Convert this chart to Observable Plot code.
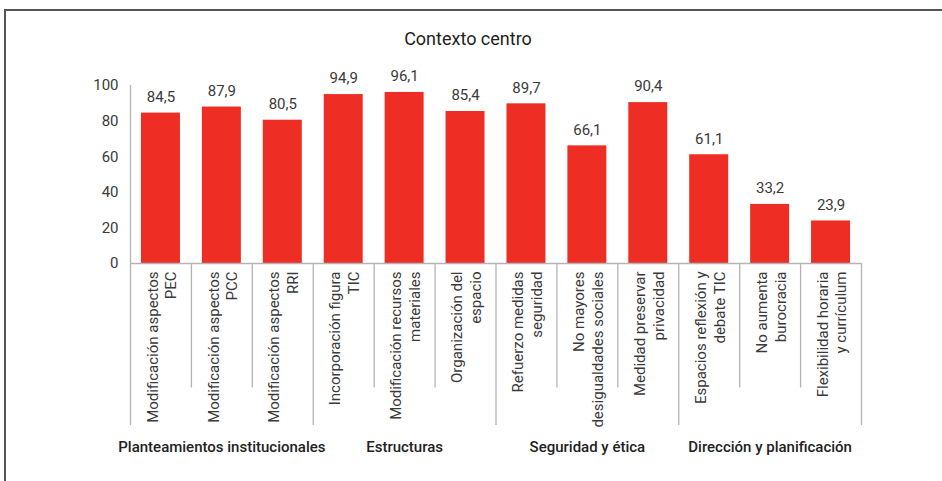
<!DOCTYPE html>
<html>
<head>
<meta charset="utf-8">
<script src="https://cdn.jsdelivr.net/npm/d3@7"></script>
<script src="https://cdn.jsdelivr.net/npm/@observablehq/plot@0.6"></script>
<style>
  html, body { margin: 0; padding: 0; background: #fff; }
  #wrap { position: relative; width: 942px; height: 481px; overflow: hidden; font-family: Roboto, "Noto Sans", sans-serif; }
  #frame { position: absolute; left: 4px; top: 9px; width: 960px; height: 500px; border-top: 2px solid #555; border-left: 2px solid #555; box-sizing: border-box; }
  #title { position: absolute; left: 0; width: 936px; top: 28px; text-align: center; font-size: 18px; font-weight: 400; color: #1e1e1e; }
  #chart { position: absolute; left: 0; top: 0; }
</style>
</head>
<body>
<div id="wrap">
  <div id="frame"></div>
  <div id="title">Contexto centro</div>
  <div id="chart"></div>
</div>
<script>
const categories = [
  "Modificación aspectos\nPEC",
  "Modificación aspectos\nPCC",
  "Modificación aspectos\nRRI",
  "Incorporación figura\nTIC",
  "Modificación recursos\nmateriales",
  "Organización del\nespacio",
  "Refuerzo medidas\nseguridad",
  "No mayores\ndesigualdades sociales",
  "Medidad preservar\nprivacidad",
  "Espacios reflexión y\ndebate TIC",
  "No aumenta\nburocracia",
  "Flexibilidad horaria\ny currículum"
];
const values = [84.5, 87.9, 80.5, 94.9, 96.1, 85.4, 89.7, 66.1, 90.4, 61.1, 33.2, 23.9];
const groups = ["Planteamientos institucionales", "Estructuras", "Seguridad y ética", "Dirección y planificación"];
const groupSize = [3, 3, 3, 3];
const yTicks = [0, 20, 40, 60, 80, 100];

const data = categories.map((c, i) => ({i, label: c, value: values[i]}));
let start = 0;
const groupData = groups.map((g, k) => { const d = {name: g, x1: start, x2: start + groupSize[k]}; start += groupSize[k]; return d; });
const boundaries = new Set([0, ...groupData.map(d => d.x2)]);
const seps = d3.range(0, categories.length + 1).map(k => ({k, long: boundaries.has(k)}));

const fmt = v => v.toFixed(1).replace(".", ",");
const red = "#ee2e24";
const grey = "#b4b4b4";
const txt = "#3a3a3a";

const plot = Plot.plot({
  width: 942,
  height: 481,
  marginLeft: 130,
  marginRight: 81,
  marginTop: 85,
  marginBottom: 218,
  style: {fontFamily: "Roboto, 'Noto Sans', sans-serif", background: "transparent"},
  x: {domain: [0, categories.length], axis: null},
  y: {domain: [0, 100], axis: null},
  marks: [
    Plot.rectY(data, {x1: d => d.i + 0.18, x2: d => d.i + 0.82, y: "value", fill: red}),
    Plot.ruleX(seps, {x: "k", y1: 0, y2: d => d.long ? -91 : -70, stroke: grey, strokeWidth: 1.3}),
    Plot.ruleX([0], {stroke: grey, strokeWidth: 1.3}),
    Plot.ruleY([0], {stroke: grey, strokeWidth: 1.3}),
    Plot.axisY({ticks: yTicks, tickSize: 0, tickPadding: 12, fontSize: 15, fill: txt, label: null}),
    Plot.text(data, {x: d => d.i + 0.5, y: "value", text: d => fmt(d.value), dy: -16, fontSize: 15, fill: txt}),
    Plot.text(data, {x: d => d.i + 0.5, y: 0, text: "label", rotate: -90, textAnchor: "end", lineAnchor: "middle", lineHeight: 1.25, dy: 8, fontSize: 15, fill: txt}),
    Plot.text(groupData, {x: d => (d.x1 + d.x2) / 2, frameAnchor: "bottom", text: "name", dy: 188, fontSize: 15, fontWeight: 500, fill: "#222"})
  ]
});
document.getElementById("chart").appendChild(plot);
</script>
</body>
</html>
